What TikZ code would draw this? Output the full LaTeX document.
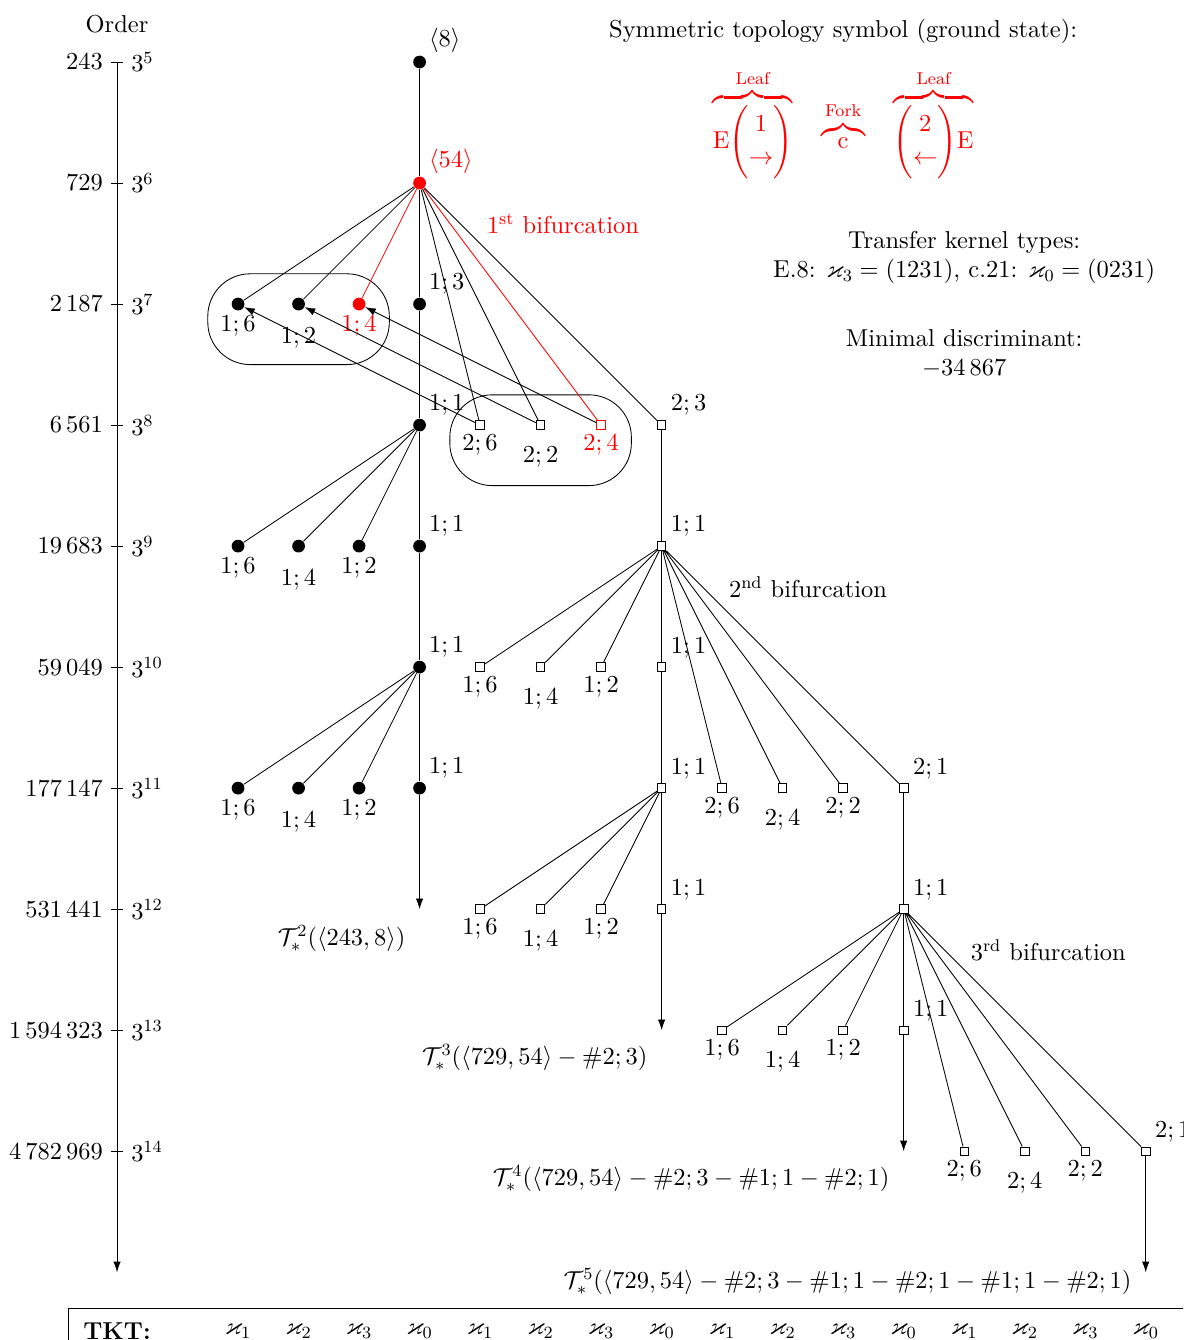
\RequirePackage{fix-cm}
\documentclass[11pt,tikz,border=0pt]{standalone}
\usepackage{amsmath,amssymb}
\usetikzlibrary{arrows.meta,positioning}
\DeclareFontShape{TU}{lmr}{m}{n}{<-7.5>"[lmroman7-regular]:mapping=tex-text;"
  <7.5-9.5>"[lmroman8-regular]:mapping=tex-text;"
  <9.5->"[lmroman10-regular]:mapping=tex-text;"}{}

\begin{document}
\begin{tikzpicture}[
    font=\fontsize{11.5pt}{13.6pt}\selectfont,
    bdot/.style={circle, fill=black, inner sep=0pt, minimum size=6pt},
    rdot/.style={bdot, fill=red},
    sqr/.style={draw, fill=white, inner sep=0pt, minimum size=4pt},
    rsqr/.style={sqr, draw=red},
    dlab/.style={yshift=-0.2cm},
    every label/.style={inner sep=2pt},
    arr/.style={-{Latex[length=5pt,width=3.5pt]}},
    grp/.style={draw, rounded corners=0.7cm}
  ]
  \useasboundingbox (-1.934,1.025) rectangle (17.62,-21.12);
  \clip (-1.934,1.025) rectangle (17.62,-21.12);

  \node (order) at (0,0.63) {Order};
  \coordinate (ax0) at (0,0);
  \coordinate (ax10) at (0,-20);
  \draw[arr] (ax0) -- (ax10);
  \draw (-0.1,0) node[left] (o5) {$243$} -- (0.1,0) node[right] (p5) {$3^{5}$};
  \draw (-0.1,-2) node[left] (o6) {$729$} -- (0.1,-2) node[right] (p6) {$3^{6}$};
  \draw (-0.1,-4) node[left] (o7) {$2\,187$} -- (0.1,-4) node[right] (p7) {$3^{7}$};
  \draw (-0.1,-6) node[left] (o8) {$6\,561$} -- (0.1,-6) node[right] (p8) {$3^{8}$};
  \draw (-0.1,-8) node[left] (o9) {$19\,683$} -- (0.1,-8) node[right] (p9) {$3^{9}$};
  \draw (-0.1,-10) node[left] (o10) {$59\,049$} -- (0.1,-10) node[right] (p10) {$3^{10}$};
  \draw (-0.1,-12) node[left] (o11) {$177\,147$} -- (0.1,-12) node[right] (p11) {$3^{11}$};
  \draw (-0.1,-14) node[left] (o12) {$531\,441$} -- (0.1,-14) node[right] (p12) {$3^{12}$};
  \draw (-0.1,-16) node[left] (o13) {$1\,594\,323$} -- (0.1,-16) node[right] (p13) {$3^{13}$};
  \draw (-0.1,-18) node[left] (o14) {$4\,782\,969$} -- (0.1,-18) node[right] (p14) {$3^{14}$};

  \draw[grp] (1.5,-3.5) rectangle (4.5,-5.0);
  \draw[grp] (5.5,-5.5) rectangle (8.5,-7.0);

  \node[bdot, label={above right:$\langle 8\rangle$}] (m0) at (5,0) {};
  \node[rdot, label={[red]above right:$\langle 54\rangle$}] (m1) at (5,-2) {};
  \node[bdot, label={below:$1;6$}] (m2a) at (2,-4) {};
  \node[bdot, label={[dlab]below:$1;2$}] (m2b) at (3,-4) {};
  \node[rdot, label={[red]below:$1;4$}] (m2c) at (4,-4) {};
  \node[bdot, label={above right:$1;3$}] (m2) at (5,-4) {};
  \node[bdot, label={above right:$1;1$}] (m3) at (5,-6) {};
  \node[sqr, label={below:$2;6$}] (s3a) at (6,-6) {};
  \node[sqr, label={[dlab]below:$2;2$}] (s3b) at (7,-6) {};
  \node[rsqr, label={[red]below:$2;4$}] (s3c) at (8,-6) {};
  \node[sqr, label={above right:$2;3$}] (s3) at (9,-6) {};
  \node[bdot, label={below:$1;6$}] (m4a) at (2,-8) {};
  \node[bdot, label={[dlab]below:$1;4$}] (m4b) at (3,-8) {};
  \node[bdot, label={below:$1;2$}] (m4c) at (4,-8) {};
  \node[bdot, label={above right:$1;1$}] (m4) at (5,-8) {};
  \node[sqr, label={above right:$1;1$}] (s4) at (9,-8) {};
  \node[bdot, label={above right:$1;1$}] (m5) at (5,-10) {};
  \node[sqr, label={below:$1;6$}] (s5a) at (6,-10) {};
  \node[sqr, label={[dlab]below:$1;4$}] (s5b) at (7,-10) {};
  \node[sqr, label={below:$1;2$}] (s5c) at (8,-10) {};
  \node[sqr, label={above right:$1;1$}] (s5) at (9,-10) {};
  \node[bdot, label={below:$1;6$}] (m6a) at (2,-12) {};
  \node[bdot, label={[dlab]below:$1;4$}] (m6b) at (3,-12) {};
  \node[bdot, label={below:$1;2$}] (m6c) at (4,-12) {};
  \node[bdot, label={above right:$1;1$}] (m6) at (5,-12) {};
  \node[sqr, label={above right:$1;1$}] (s6) at (9,-12) {};
  \node[sqr, label={below:$2;6$}] (s6a) at (10,-12) {};
  \node[sqr, label={[dlab]below:$2;4$}] (s6b) at (11,-12) {};
  \node[sqr, label={below:$2;2$}] (s6c) at (12,-12) {};
  \node[sqr, label={above right:$2;1$}] (t6) at (13,-12) {};
  \node[sqr, label={below:$1;6$}] (s7a) at (6,-14) {};
  \node[sqr, label={[dlab]below:$1;4$}] (s7b) at (7,-14) {};
  \node[sqr, label={below:$1;2$}] (s7c) at (8,-14) {};
  \node[sqr, label={above right:$1;1$}] (s7) at (9,-14) {};
  \node[sqr, label={above right:$1;1$}] (t7) at (13,-14) {};
  \node[sqr, label={below:$1;6$}] (t8a) at (10,-16) {};
  \node[sqr, label={[dlab]below:$1;4$}] (t8b) at (11,-16) {};
  \node[sqr, label={below:$1;2$}] (t8c) at (12,-16) {};
  \node[sqr, label={above right:$1;1$}] (t8) at (13,-16) {};
  \node[sqr, label={below:$2;6$}] (t9a) at (14,-18) {};
  \node[sqr, label={[dlab]below:$2;4$}] (t9b) at (15,-18) {};
  \node[sqr, label={below:$2;2$}] (t9c) at (16,-18) {};
  \node[sqr, label={above right:$2;1$}] (u9) at (17,-18) {};
  \coordinate (m7) at (5,-14);
  \coordinate (s8) at (9,-16);
  \coordinate (t9) at (13,-18);
  \coordinate (u10) at (17,-20);

  \draw (m0) -- (m1) -- (m2) -- (m3) -- (m4) -- (m5) -- (m6);
  \draw[arr] (m6) -- (m7);
  \draw (m1) -- (m2a) (m1) -- (m2b) (m1) -- (s3a) (m1) -- (s3b) (m1) -- (s3);
  \draw[red] (m1) -- (m2c) (m1) -- (s3c);
  \draw (m3) -- (m4a) (m3) -- (m4b) (m3) -- (m4c);
  \draw (m5) -- (m6a) (m5) -- (m6b) (m5) -- (m6c);
  \draw (s3) -- (s4) -- (s5) -- (s6) -- (s7);
  \draw[arr] (s7) -- (s8);
  \draw (s4) -- (s5a) (s4) -- (s5b) (s4) -- (s5c);
  \draw (s4) -- (s6a) (s4) -- (s6b) (s4) -- (s6c) (s4) -- (t6);
  \draw (s6) -- (s7a) (s6) -- (s7b) (s6) -- (s7c);
  \draw (t6) -- (t7) -- (t8);
  \draw[arr] (t8) -- (t9);
  \draw (t7) -- (t8a) (t7) -- (t8b) (t7) -- (t8c);
  \draw (t7) -- (t9a) (t7) -- (t9b) (t7) -- (t9c) (t7) -- (u9);
  \draw[arr] (u9) -- (u10);
  \draw[arr] (s3a) -- (m2a);
  \draw[arr] (s3b) -- (m2b);
  \draw[arr] (s3c) -- (m2c);

  \node[red] (bif1) at (7.37,-2.68) {$1^{\text{st}}$ bifurcation};
  \node (bif2) at (11.42,-8.68) {$2^{\text{nd}}$ bifurcation};
  \node (bif3) at (15.39,-14.68) {$3^{\text{rd}}$ bifurcation};

  \node[below left=0.14cm and 0.1cm of m7] (tr2) {$\mathcal{T}_*^2(\langle 243,8\rangle)$};
  \node[below left=0.1cm and 0.1cm of s8] (tr3) {$\mathcal{T}_*^3(\langle 729,54\rangle-\#2;3)$};
  \node[below left=0.1cm and 0.1cm of t9] (tr4) {$\mathcal{T}_*^4(\langle 729,54\rangle-\#2;3-\#1;1-\#2;1)$};
  \node[left=0.1cm of u10, yshift=-0.15cm] (tr5) {$\mathcal{T}_*^5(\langle 729,54\rangle-\#2;3-\#1;1-\#2;1-\#1;1-\#2;1)$};

  \node (title) at (12,0.51) {Symmetric topology symbol (ground state):};
  \node[red] (sym) at (12,-1.03) {$\overbrace{\mathrm{E}\Biggl(\begin{matrix}1\\[2pt] \rightarrow\end{matrix}\Biggr)}^{\text{Leaf}}\quad
    \overbrace{\mathrm{c}}^{\text{Fork}}\quad
    \overbrace{\Biggl(\begin{matrix}2\\[2pt] \leftarrow\end{matrix}\Biggr)\mathrm{E}}^{\text{Leaf}}$};
  \node[align=center] (ktypes) at (14,-3.23) {Transfer kernel types:\\
    E.8: $\varkappa_3=(1231)$, c.21: $\varkappa_0=(0231)$};
  \node[align=center, below=0.49cm of ktypes] (disc) {Minimal discriminant:\\ $-34\,867$};

  \draw (-0.81,-20.6) rectangle (19,-22);
  \node[font=\fontsize{11.5pt}{13.6pt}\selectfont\bfseries] (tkt) at (0,-20.97) {TKT:};
  \node (k1a) at (2,-20.97) {$\varkappa_1$};
  \node (k2a) at (3,-20.97) {$\varkappa_2$};
  \node (k3a) at (4,-20.97) {$\varkappa_3$};
  \node (k0a) at (5,-20.97) {$\varkappa_0$};
  \node (k1b) at (6,-20.97) {$\varkappa_1$};
  \node (k2b) at (7,-20.97) {$\varkappa_2$};
  \node (k3b) at (8,-20.97) {$\varkappa_3$};
  \node (k0b) at (9,-20.97) {$\varkappa_0$};
  \node (k1c) at (10,-20.97) {$\varkappa_1$};
  \node (k2c) at (11,-20.97) {$\varkappa_2$};
  \node (k3c) at (12,-20.97) {$\varkappa_3$};
  \node (k0c) at (13,-20.97) {$\varkappa_0$};
  \node (k1d) at (14,-20.97) {$\varkappa_1$};
  \node (k2d) at (15,-20.97) {$\varkappa_2$};
  \node (k3d) at (16,-20.97) {$\varkappa_3$};
  \node (k0d) at (17,-20.97) {$\varkappa_0$};
\end{tikzpicture}
\end{document}
